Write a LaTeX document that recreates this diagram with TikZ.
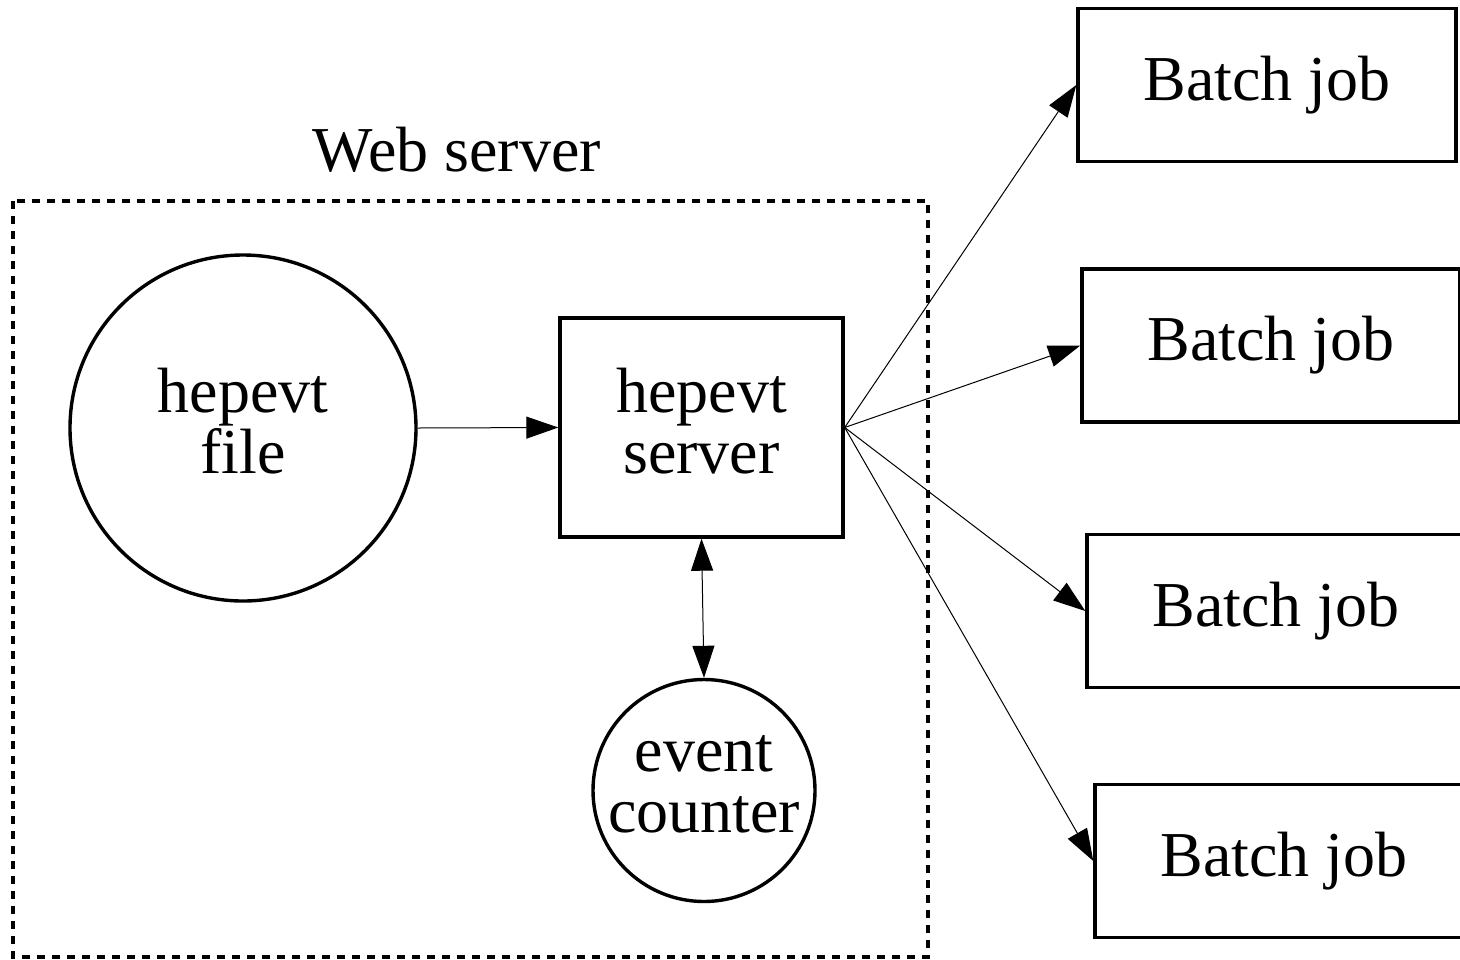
\documentclass[tikz,border=0pt]{standalone}
\usepackage{fontspec}
\setmainfont{Liberation Serif}
\usetikzlibrary{arrows.meta}

\tikzset{
  jobbox/.style={draw,line width=1.7pt,minimum width=189pt,minimum height=76.5pt,inner sep=0pt},
  flow/.style={line width=0.5pt,-{Triangle[length=16pt,width=11pt]}},
}

\begin{document}
\begin{tikzpicture}[x=0.5pt,y=0.5pt,yscale=-1,xscale=1,font=\fontsize{32}{30.5}\selectfont]
\useasboundingbox (0,0) rectangle (1460,959);
\clip (0,0) rectangle (1460,959);

%Shape: Rectangle, dashed [id:web]
\draw [line width=1.7pt,dash pattern=on 4pt off 3.5pt] (13,201) rectangle (928,957) ;
% Text Node
\node (web) at (457,150) {Web server};

%Shape: Circle [id:file]
\node (file) [draw,circle,line width=1.7pt,minimum size=173pt,inner sep=0pt,align=center] at (243,428) {hepevt\\file\vphantom{p}};
%Shape: Rectangle [id:srv]
\node (srv) [draw,line width=1.7pt,minimum width=141.5pt,minimum height=109.5pt,inner sep=0pt,align=center] at (701.5,427.5) {hepevt\\server\vphantom{p}};
%Shape: Circle [id:cnt]
\node (cnt) [draw,circle,line width=1.7pt,minimum size=111pt,inner sep=0pt,align=center] at (704,790.5) {event\\counter\vphantom{p}};

%Shape: Rectangles [id:jobs]
\node (job1) [jobbox] at (1267,85) {Batch job};
\node (job2) [jobbox] at (1271,345.5) {Batch job};
\node (job3) [jobbox] at (1276,611) {Batch job};
\node (job4) [jobbox] at (1284,861) {Batch job};

%Straight Lines [id:arrows]
\draw [flow] (file.east) -- (srv.west) ;
\draw [flow,{Triangle[length=16pt,width=11pt]}-{Triangle[length=16pt,width=11pt]}] (srv.south) -- (cnt.north) ;
\foreach \j in {1,...,4}
  \draw [flow] (srv.east) -- (job\j.west) ;

\end{tikzpicture}
\end{document}
